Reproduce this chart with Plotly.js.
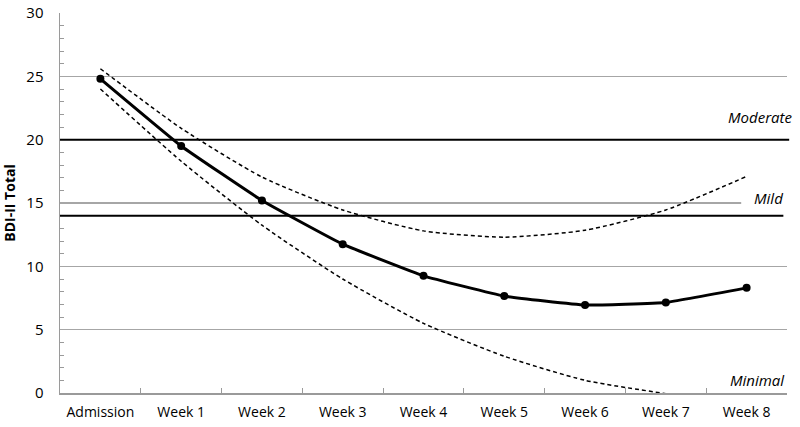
<!DOCTYPE html>
<html><head><meta charset="utf-8">
<script src="https://cdn.plot.ly/plotly-3.0.1.min.js"></script>
<style>html,body{margin:0;padding:0;background:#fff}#c{width:800px;height:427px}</style>
</head><body><div id="c"></div>
<script>
const categories = ["Admission","Week 1","Week 2","Week 3","Week 4","Week 5","Week 6","Week 7","Week 8"];
const meanScores = [24.8, 19.5, 15.2, 11.75, 9.25, 7.65, 6.95, 7.15, 8.3];
const upperBound = [25.6, 20.9, 17.05, 14.45, 12.8, 12.3, 12.85, 14.45, 17.1];
const lowerBound = [24.0, 18.3, 13.25, 9.0, 5.5, 2.9, 1.0, -0.05, null];
const severityCutoffs = [20, 14];
const severityLabels = ["Moderate", "Mild", "Minimal"];
const severityLabelY = [21.8, 15.4, 1.0];

const font = "'Open Sans', 'Liberation Sans', sans-serif";
const traces = [
  {x: categories, y: upperBound, mode: 'lines', line: {color: '#000', width: 1.5, dash: '4px,3px', shape: 'spline', smoothing: 0.6}, hoverinfo: 'skip'},
  {x: categories, y: lowerBound, mode: 'lines', line: {color: '#000', width: 1.5, dash: '4px,3px', shape: 'spline', smoothing: 0.6}, hoverinfo: 'skip'},
  {x: categories, y: meanScores, mode: 'lines+markers', line: {color: '#000', width: 3, shape: 'spline', smoothing: 0.3}, marker: {color: '#000', size: 8}}
];
const shapes = [
  {type: 'rect', xref: 'paper', yref: 'y', x0: 0.937, x1: 1.02, y0: 14.7, y1: 15.3, fillcolor: '#fff', line: {width: 0}, layer: 'above'},
  {type: 'line', xref: 'paper', yref: 'y', x0: 0, x1: 1.003, y0: severityCutoffs[0], y1: severityCutoffs[0], line: {color: '#000', width: 2}, layer: 'above'},
  {type: 'line', xref: 'paper', yref: 'y', x0: 0, x1: 0.995, y0: severityCutoffs[1], y1: severityCutoffs[1], line: {color: '#000', width: 2}, layer: 'above'}
];
const annX = [1.009, 0.997, 1.0];
const annotations = severityLabels.map((t, i) => ({
  text: '<i>' + t + '</i>', xref: 'paper', yref: 'y', x: annX[i], y: severityLabelY[i],
  xanchor: 'right', yanchor: 'middle', showarrow: false, font: {family: font, size: 15, color: '#000'}
}));
const layout = {
  width: 800, height: 427,
  margin: {l: 60, r: 13, t: 13, b: 34},
  paper_bgcolor: '#fff', plot_bgcolor: '#fff',
  showlegend: false,
  font: {family: font, size: 14, color: '#000'},
  xaxis: {
    type: 'category', range: [-0.5, 8.5], showgrid: false, zeroline: false,
    showline: true, linecolor: '#9a9a9a', linewidth: 1.5,
    ticks: 'inside', tickson: 'boundaries', ticklen: 5, tickcolor: '#9a9a9a',
    tickfont: {family: font, size: 14, color: '#000'}, ticklabelstandoff: 6
  },
  yaxis: {
    range: [0, 30], dtick: 5, showgrid: true, gridcolor: '#a6a6a6', gridwidth: 1.5,
    zeroline: false, showline: true, linecolor: '#9a9a9a', linewidth: 1.5,
    ticks: '', tickfont: {family: font, size: 15, color: '#000'}, ticklabelstandoff: 12,
    minor: {dtick: 1, ticks: 'inside', ticklen: 4, tickcolor: '#9a9a9a', showgrid: false},
    title: {text: '<b>BDI-II Total</b>', font: {family: font, size: 14, color: '#000'}, standoff: 10}
  },
  shapes: shapes,
  annotations: annotations
};
Plotly.newPlot('c', traces, layout, {displayModeBar: false, staticPlot: true});
</script></body></html>
